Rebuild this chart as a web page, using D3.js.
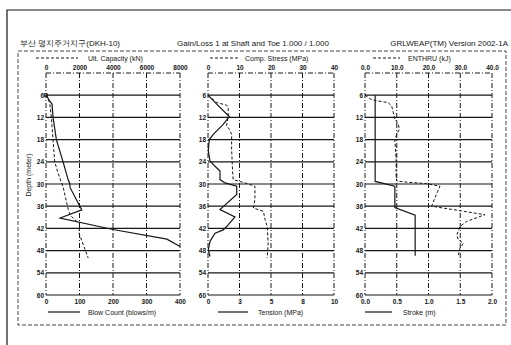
<!DOCTYPE html>
<html>
<head>
<meta charset="utf-8">
<script src="https://cdn.jsdelivr.net/npm/d3@7"></script>
<style>
  body { margin: 0; background: #fff; }
  svg { display: block; font-family: "Liberation Sans", Arial, sans-serif; }
</style>
</head>
<body>
<svg id="chart" width="511" height="345"></svg>
<script>
// header texts
const headerLeft = '부산 명지주거지구(DKH-10)';
const headerMid = 'Gain/Loss 1 at Shaft and Toe 1.000 / 1.000';
const headerRight = 'GRLWEAP(TM) Version 2002-1A';

// depth axis
const depthTicks = [6, 12, 18, 24, 30, 36, 42, 48, 54, 60];

// [depth (m), value]
const ultCapacity = [[6, 0], [8, 220], [12, 320], [18, 420], [24, 520], [27, 715], [30, 955], [31, 1030],
  [36.9, 1330], [38.5, 1450], [40.8, 2000], [43.3, 1970], [50, 2520]];
const blowCount = [[6, 0], [7.5, 11], [8.4, 18], [12, 21], [18, 31], [24, 51], [28.8, 66], [30, 71], [31, 72],
  [37, 107], [39.2, 42], [42.3, 200], [44.9, 361], [46.9, 400]];
const compStress = [[6, 0], [8, 2.8], [8.7, 5.9], [9.3, 6.4], [11.6, 6.4], [14.3, 5.9], [15.2, 6.8], [16.6, 7.5],
  [20.6, 7.5], [26.5, 7.8], [28.8, 8.0], [29.2, 9.6], [29.7, 11.7], [30.6, 14.9], [34.2, 14.9], [36.5, 14.4],
  [37.4, 17.6], [39.6, 18.1], [41.5, 18.8], [46, 19.1], [50, 18.8]];
const tension = [[6, 0], [8.4, 0.69], [11.8, 1.69], [13.9, 1.21], [16.6, 0.42], [18, 0.1], [21, 0.02], [23.8, 0.16],
  [25.2, 0.56], [26.5, 0.95], [28.8, 0.95], [29.7, 1.35], [30.6, 2.28], [32.8, 2.28], [36.9, 0.95], [38.9, 2.14],
  [41.5, 1.48], [42.4, 1.21], [43.3, 0.56], [45.5, 0.16], [47.8, 0.02], [49.6, 0.16]];
const enthru = [[6, 0], [7.2, 2.1], [7.5, 3.7], [8.0, 7.3], [8.9, 8.4], [10.7, 8.9], [12.5, 9.4], [13.9, 10.5],
  [15.2, 10.8], [16.6, 10], [18, 9.4], [23.4, 9.8], [27.9, 9.8], [29.2, 10], [29.5, 13.1], [29.9, 19.4],
  [30.6, 23.6], [33.8, 22], [36, 21], [38.3, 37.8], [40.1, 32], [41.5, 29.9], [43.8, 28.9], [45.1, 29.4],
  [46, 31], [47.4, 29.9], [49.2, 29.4]];
const stroke = [[6, 0.16], [29.3, 0.16], [30.6, 0.47], [36.4, 0.47], [38.4, 0.79], [49.4, 0.79]];

// tick values / labels
const capTicks = [0, 2000, 4000, 6000, 8000];
const blowTicks = [0, 100, 200, 300, 400];
const compTicks = [0, 10, 20, 30, 40];
const tensionTicks = [0, 2.5, 5, 7.5, 10];
const tensionLabels = ['0', '3', '5', '8', '10'];
const enthruTicks = [0, 10, 20, 30, 40];
const strokeTicks = [0, 0.5, 1, 1.5, 2];

const panels = [
  { x0: 46, x1: 180,
    top: { ticks: capTicks, fmt: d => String(d), name: 'Ult. Capacity (kN)', data: ultCapacity, leg: [36, 78, 88] },
    bot: { ticks: blowTicks, fmt: d => String(d), name: 'Blow Count (blows/m)', data: blowCount, leg: [48, 80, 88] } },
  { x0: 208, x1: 334,
    top: { ticks: compTicks, fmt: d => String(d), name: 'Comp. Stress (MPa)', data: compStress, leg: [210, 238, 245] },
    bot: { ticks: tensionTicks, fmt: (d, i) => tensionLabels[i], name: 'Tension (MPa)', data: tension, leg: [218, 248, 258] } },
  { x0: 365, x1: 492,
    top: { ticks: enthruTicks, fmt: d => d3.format('.1f')(d), name: 'ENTHRU (kJ)', data: enthru, leg: [373, 400, 408] },
    bot: { ticks: strokeTicks, fmt: d => d3.format('.1f')(d), name: 'Stroke (m)', data: stroke, leg: [365, 392, 403] } }
];

const ink = '#161616';
const svg = d3.select('#chart');

// outer frame (top and left edge visible)
svg.append('path').attr('d', 'M7,345V10H511').attr('fill', 'none').attr('stroke', ink).attr('stroke-width', 1.2);

// header
const header = svg.append('g').attr('font-size', 8).attr('fill', ink);
header.append('text').attr('x', 20).attr('y', 46).text(headerLeft);
header.append('text').attr('x', 177).attr('y', 46).text(headerMid);
header.append('text').attr('x', 508).attr('y', 46).attr('text-anchor', 'end').text(headerRight);

// inner dashed box
svg.append('rect').attr('x', 18).attr('y', 51).attr('width', 488).attr('height', 274)
  .attr('fill', 'none').attr('stroke', ink).attr('stroke-width', 0.8).attr('stroke-dasharray', '4,2');

const y = d3.scaleLinear().domain([0, 60]).range([73, 295]);

panels.forEach((p) => {
  const xTop = d3.scaleLinear().domain(d3.extent(p.top.ticks)).range([p.x0, p.x1]);
  const xBot = d3.scaleLinear().domain(d3.extent(p.bot.ticks)).range([p.x0, p.x1]);
  const g = svg.append('g');

  // vertical grid (dashed) incl. left/right edges
  g.selectAll('line.v').data(p.top.ticks).enter().append('line')
    .attr('x1', d => xTop(d)).attr('x2', d => xTop(d)).attr('y1', y(0)).attr('y2', y(60))
    .attr('stroke', ink).attr('stroke-width', 1).attr('stroke-dasharray', '5,2,1,2');

  // horizontal grid (solid) + dashed top edge
  g.selectAll('line.h').data(depthTicks).enter().append('line')
    .attr('x1', p.x0).attr('x2', p.x1).attr('y1', d => y(d)).attr('y2', d => y(d))
    .attr('stroke', ink).attr('stroke-width', 1.2);
  g.append('line').attr('x1', p.x0).attr('x2', p.x1).attr('y1', y(0)).attr('y2', y(0))
    .attr('stroke', ink).attr('stroke-width', 1).attr('stroke-dasharray', '5,2,1,2');

  // axes
  const axTop = g.append('g').attr('transform', `translate(0,${y(0)})`)
    .call(d3.axisTop(xTop).tickValues(p.top.ticks).tickFormat(p.top.fmt).tickSize(0).tickPadding(3));
  const axBot = g.append('g').attr('transform', `translate(0,${y(60)})`)
    .call(d3.axisBottom(xBot).tickValues(p.bot.ticks).tickFormat(p.bot.fmt).tickSize(0).tickPadding(4));
  const axLeft = g.append('g').attr('transform', `translate(${p.x0},0)`)
    .call(d3.axisLeft(y).tickValues(depthTicks).tickSize(0).tickPadding(2));
  [axTop, axBot, axLeft].forEach(a => {
    a.select('.domain').remove();
    a.selectAll('text').attr('font-size', 6.5).attr('font-weight', 'bold').attr('fill', ink)
      .attr('font-family', '"Liberation Sans", Arial, sans-serif');
  });

  // curves
  const lineTop = d3.line().x(d => xTop(d[1])).y(d => y(d[0]));
  const lineBot = d3.line().x(d => xBot(d[1])).y(d => y(d[0]));
  g.append('path').datum(p.top.data).attr('d', lineTop)
    .attr('fill', 'none').attr('stroke', ink).attr('stroke-width', 1).attr('stroke-dasharray', '3,2');
  g.append('path').datum(p.bot.data).attr('d', lineBot)
    .attr('fill', 'none').attr('stroke', ink).attr('stroke-width', 1.2);

  // legends
  g.append('line').attr('x1', p.top.leg[0]).attr('x2', p.top.leg[1]).attr('y1', 58).attr('y2', 58)
    .attr('stroke', ink).attr('stroke-width', 1).attr('stroke-dasharray', '3,2');
  g.append('text').attr('x', p.top.leg[2]).attr('y', 60.5).attr('font-size', 7).attr('fill', ink).text(p.top.name);
  g.append('line').attr('x1', p.bot.leg[0]).attr('x2', p.bot.leg[1]).attr('y1', 312).attr('y2', 312)
    .attr('stroke', ink).attr('stroke-width', 1.2);
  g.append('text').attr('x', p.bot.leg[2]).attr('y', 314.5).attr('font-size', 7).attr('fill', ink).text(p.bot.name);
});

// start marker in first panel
svg.append('rect').attr('x', 44.5).attr('y', y(6) - 1.5).attr('width', 3).attr('height', 3)
  .attr('fill', 'none').attr('stroke', ink).attr('stroke-width', 0.8);

// depth title
svg.append('text').attr('transform', 'translate(31,175) rotate(-90)').attr('text-anchor', 'middle')
  .attr('font-size', 7).attr('fill', ink).text('Depth (meter)');
</script>
</body>
</html>
